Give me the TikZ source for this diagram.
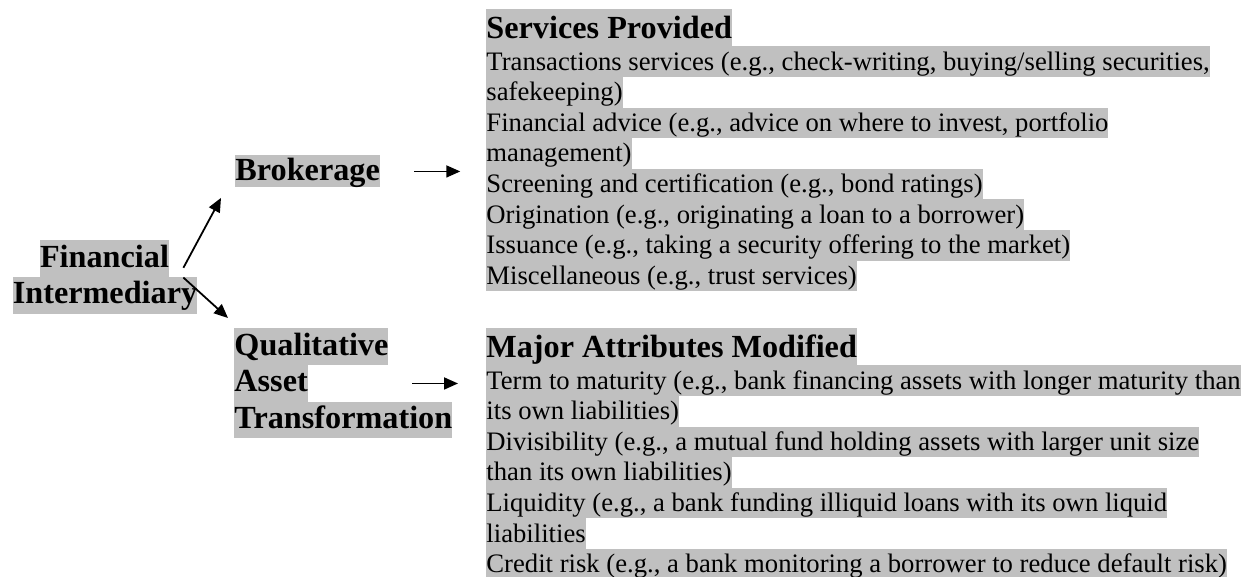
\documentclass[tikz,border=0pt]{standalone}
\usepackage{fontspec}
\setmainfont{Liberation Serif}
\usetikzlibrary{arrows.meta, positioning}
\definecolor{hlgray}{RGB}{192,192,192}
\tikzset{
  line/.style={anchor=north west, inner sep=0pt, fill=hlgray, font=\fontsize{12}{14}\selectfont, text height=10.6pt, text depth=3.17pt},
  head/.style={line, font=\fontsize{14.5}{17}\selectfont\bfseries, text height=13pt, text depth=3.65pt},
  label/.style={head, text height=12pt, text depth=4.5pt},
  arr/.style={-{Triangle[length=6.3pt,width=5.4pt]}, line width=0.8pt}
}

\begin{document}
\begin{tikzpicture}[x=0.45pt, y=-0.45pt]
\useasboundingbox (0,0) rectangle (1244,576);

% Left label
\node[label, anchor=north] (fin1) at (104.5,240) {Financial};
\node[label, anchor=north] (fin2) at (105,276.7) {Intermediary};

% Middle labels
\node[label, text height=11.25pt, text depth=3.15pt] (brk) at (235,155) {Brokerage};
\node[label] (qa1) at (234,328) {Qualitative};
\node[label] (qa2) at (234,364.7) {Asset};
\node[label] (qa3) at (234,401.3) {Transformation};

% Services Provided
\node[head] (sp) at (486,9) {Services Provided};
\foreach \txt [count=\i] in {
  {Transactions services (e.g., check-writing, buying/selling securities,},
  {safekeeping)},
  {Financial advice (e.g., advice on where to invest, portfolio},
  {management)},
  {Screening and certification (e.g., bond ratings)},
  {Origination (e.g., originating a loan to a borrower)},
  {Issuance (e.g., taking a security offering to the market)},
  {Miscellaneous (e.g., trust services)}}
{
  \node[line] (sp\i) at (486,{46+(\i-1)*30.6}) {\txt};
}

% Major Attributes Modified
\node[head] (ma) at (486,328) {Major Attributes Modified};
\foreach \txt [count=\i] in {
  {Term to maturity (e.g., bank financing assets with longer maturity than},
  {its own liabilities)},
  {Divisibility (e.g., a mutual fund holding assets with larger unit size},
  {than its own liabilities)},
  {Liquidity (e.g., a bank funding illiquid loans with its own liquid},
  {liabilities},
  {Credit risk (e.g., a bank monitoring a borrower to reduce default risk)}}
{
  \node[line] (ma\i) at (486,{365+(\i-1)*30.6}) {\txt};
}

% Arrows
\draw[arr] ([shift={(14,9)}]fin1.east) -- ([shift={(-14,10)}]brk.south west);
\draw[arr] ([shift={(14,0)}]fin1.south east) -- ([shift={(-6,-10)}]qa1.north west);
\draw[arr] ([shift={(34,0)}]brk.east) -- ([shift={(80,0)}]brk.east);
\draw[arr] ([shift={(178,0)}]qa2.west) -- ([shift={(224,0)}]qa2.west);

\end{tikzpicture}
\end{document}
